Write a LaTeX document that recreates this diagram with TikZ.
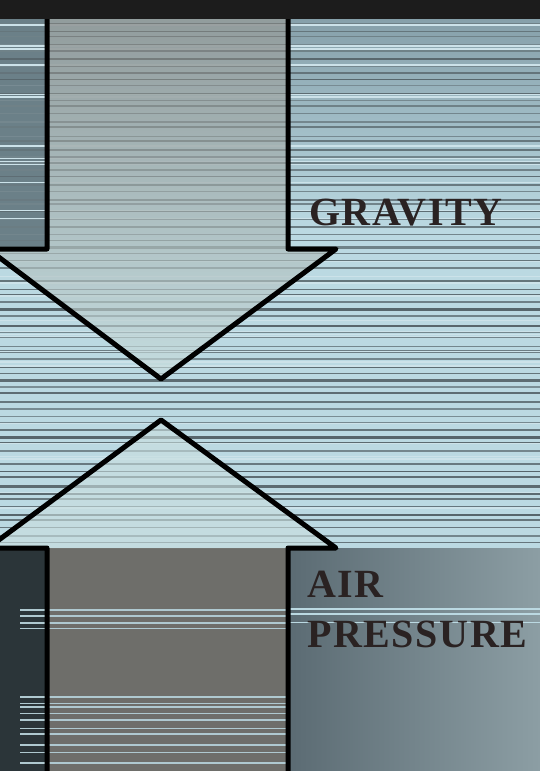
\documentclass[tikz,border=0pt]{standalone}
\usepackage{fontspec}
\setmainfont{Liberation Serif}
\newfontfamily\labelfont[LetterSpace=4]{Liberation Serif}
\usetikzlibrary{calc}
\definecolor{topbar}{HTML}{1C1C1C}
\definecolor{skyblue}{HTML}{BBD9E2}
\definecolor{skydark}{HTML}{86A0AA}
\definecolor{stripedark}{HTML}{56646A}
\definecolor{stripelight}{HTML}{93ABB3}
\definecolor{groundleft}{HTML}{5B6B73}
\definecolor{groundright}{HTML}{8C9EA4}
\definecolor{shaftgray}{HTML}{6E6E6A}
\definecolor{edgedark}{HTML}{2B3539}
\definecolor{arrowfill}{HTML}{CADFDF}
\definecolor{inktext}{HTML}{2A2222}

\begin{document}
\begin{tikzpicture}[
    x=1pt, y=-1pt,
    outline/.style={draw=black, line width=5pt, line join=round},
    forcelabel/.style={anchor=base west, text=inktext, inner sep=0pt,
        font=\labelfont\bfseries\fontsize{40}{40}\selectfont}
]
    \useasboundingbox (0,0) rectangle (540,771);
    % sky
    \fill[skyblue] (0,0) rectangle (540,548);
    \shade[top color=skydark, bottom color=skyblue] (288,19) rectangle (540,230);
    \fill[skydark!80!black] (0,19) rectangle (46,249);
    % streaks
    \pgfmathsetseed{11}
    \foreach \i in {0,...,74}{
        \pgfmathsetmacro\yy{22+\i*7+rnd*3}
        \pgfmathsetmacro\ww{0.8+rnd*2}
        \pgfmathsetmacro\ss{40+rnd*60}
        \draw[line width=\ww pt, stripedark!\ss!stripelight] (0,\yy) -- (540,\yy);
    }
    \foreach \i in {1,...,30}{
        \pgfmathsetmacro\yy{22+rnd*525}
        \pgfmathsetmacro\ww{0.5+rnd*1.5}
        \draw[line width=\ww pt, white!25!skyblue] (0,\yy) -- (540,\yy);
    }
    % ground
    \shade[left color=groundleft, right color=groundright] (288,548) rectangle (540,771);
    \fill[edgedark] (0,548) rectangle (47,771);
    \fill[shaftgray] (47,548) rectangle (288,771);
    \foreach \yy/\ww in {610/2, 616/1.5, 623/2, 628/1, 697/1.5, 703/1, 707/2, 713/1, 720/1.5, 728/1, 734/2, 745/1.5, 752/1, 763/2}{
        \draw[line width=\ww pt, skyblue!85!shaftgray] (20,\yy) -- (288,\yy);
    }
    \foreach \yy/\ww in {609/2, 614/1.5, 622/1}{
        \draw[line width=\ww pt, skyblue] (288,\yy) -- (540,\yy);
    }
    % gravity arrow
    \shade[top color=shaftgray!90!white, bottom color=arrowfill, opacity=0.65]
        (47,19) -- (47,249) -- (-12,249) -- (161,379) -- (336,249)
        -- (288,249) -- (288,19) -- cycle;
    \draw[outline] (47,15) -- (47,249) -- (-12,249) -- (161,379)
        -- (336,249) -- (288,249) -- (288,15);
    % air pressure arrow
    \fill[arrowfill, opacity=0.6]
        (-12,548) -- (161,420) -- (336,548) -- cycle;
    \draw[outline] (47,775) -- (47,548) -- (-12,548) -- (161,420)
        -- (336,548) -- (288,548) -- (288,775);
    % top bar
    \fill[topbar] (0,0) rectangle (540,19);
    % labels
    \node[forcelabel] (gravity) at (309,225) {GRAVITY};
    \node[forcelabel] (air) at (307,597) {AIR};
    \node[forcelabel] (pressure) at (307,647) {PRESSURE};
\end{tikzpicture}
\end{document}
